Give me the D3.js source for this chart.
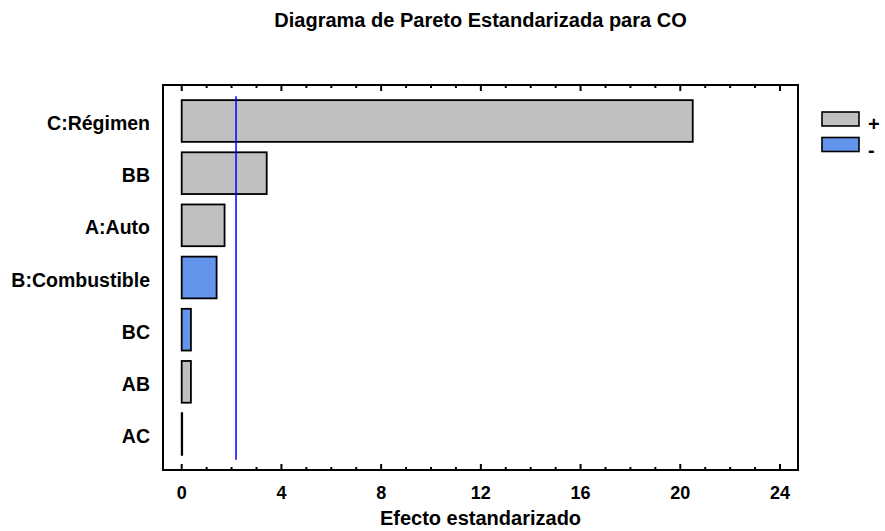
<!DOCTYPE html>
<html>
<head>
<meta charset="utf-8">
<script src="https://cdn.jsdelivr.net/npm/d3@7"></script>
<style>
  body { margin: 0; background: #fff; }
  text { font-family: "Liberation Sans", Arial, sans-serif; font-weight: bold; fill: #000; }
</style>
</head>
<body>
<div class="container"></div>
<script>
var width = 885,
    height = 531;

var plot = { left: 163, right: 798, top: 85, bottom: 470 };

// effects, sorted as in the chart
var categories = ["C:Régimen", "BB", "A:Auto", "B:Combustible", "BC", "AB", "AC"];
var effects = [20.5, 3.41, 1.72, 1.40, 0.37, 0.37, 0.02];
var signs = ["+", "+", "+", "-", "-", "+", "+"];
var xTicks = [0, 4, 8, 12, 16, 20, 24];
var critical = 2.18;
var legendItems = ["+", "-"];

var colour = { "+": "#c0c0c0", "-": "#6495ed" };

var svg = d3.select(".container").append("svg")
    .attr("width", width)
    .attr("height", height);

var x = d3.scaleLinear()
    .domain([0, 24])
    .range([181.7, 780]);

var y = d3.scaleBand()
    .domain(categories)
    .range([plot.top, plot.bottom])
    .paddingInner(0.2)
    .paddingOuter(0.29);

// title
svg.append("text")
    .attr("x", (plot.left + plot.right) / 2)
    .attr("y", 27)
    .attr("text-anchor", "middle")
    .style("font-size", "20px")
    .text("Diagrama de Pareto Estandarizada para CO");

// ---------- BARS ----------
svg.selectAll(".bar")
    .data(categories)
    .enter().append("rect")
    .attr("class", "bar")
    .attr("x", x(0))
    .attr("y", function(d) { return y(d); })
    .attr("width", function(d, i) { return x(effects[i]) - x(0); })
    .attr("height", y.bandwidth())
    .style("fill", function(d, i) { return colour[signs[i]]; })
    .style("stroke", "#000")
    .style("stroke-width", 1.8);

// critical value line
svg.append("line")
    .attr("x1", x(critical))
    .attr("x2", x(critical))
    .attr("y1", y(categories[0]) - 4)
    .attr("y2", y(categories[categories.length - 1]) + y.bandwidth() + 5)
    .style("stroke", "#0000ff")
    .style("stroke-width", 1.5);

// category labels
svg.selectAll(".cat")
    .data(categories)
    .enter().append("text")
    .attr("class", "cat")
    .attr("x", 150)
    .attr("y", function(d) { return y(d) + y.bandwidth() / 2 + 9; })
    .attr("text-anchor", "end")
    .style("font-size", "19.5px")
    .text(function(d) { return d; });

// ---------- AXES ----------
var minor = d3.range(0, 25, 1);

function ticks(yPos, dir) {
  svg.selectAll(null)
    .data(minor)
    .enter().append("line")
    .attr("x1", function(d) { return x(d); })
    .attr("x2", function(d) { return x(d); })
    .attr("y1", yPos)
    .attr("y2", function(d) { return yPos + dir * (d % 4 === 0 ? 6 : 3); })
    .style("stroke", "#000")
    .style("stroke-width", 2);
}
ticks(plot.top, 1);
ticks(plot.bottom, -1);

svg.selectAll(".xlab")
    .data(xTicks)
    .enter().append("text")
    .attr("class", "xlab")
    .attr("x", function(d) { return x(d); })
    .attr("y", 499)
    .attr("text-anchor", "middle")
    .style("font-size", "18px")
    .text(function(d) { return d; });

svg.append("text")
    .attr("x", (plot.left + plot.right) / 2)
    .attr("y", 525)
    .attr("text-anchor", "middle")
    .style("font-size", "20px")
    .text("Efecto estandarizado");

// frame
svg.append("rect")
    .attr("x", plot.left)
    .attr("y", plot.top)
    .attr("width", plot.right - plot.left)
    .attr("height", plot.bottom - plot.top)
    .style("fill", "none")
    .style("stroke", "#000")
    .style("stroke-width", 2);

// ---------- LEGEND ----------
var legend = svg.selectAll(".legend")
    .data(legendItems)
    .enter().append("g")
    .attr("class", "legend")
    .attr("transform", function(d, i) { return "translate(822," + (112 + i * 25.5) + ")"; });

legend.append("rect")
    .attr("width", 37)
    .attr("height", 14)
    .style("fill", function(d) { return colour[d]; })
    .style("stroke", "#000")
    .style("stroke-width", 1.6);

legend.append("text")
    .attr("x", 46)
    .attr("y", 19)
    .style("font-size", "20px")
    .text(function(d) { return d; });
</script>
</body>
</html>
